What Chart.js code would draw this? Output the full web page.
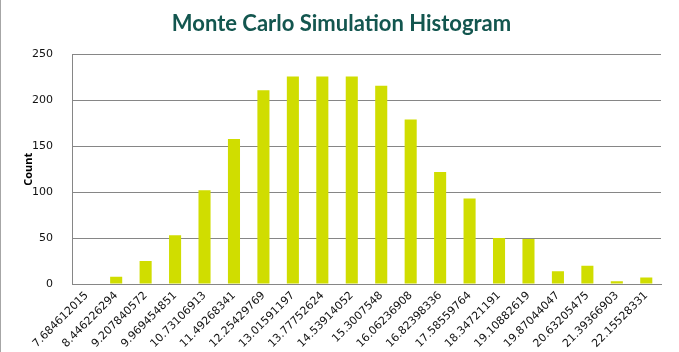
<!DOCTYPE html>
<html>
<head>
<meta charset="utf-8">
<script src="https://cdn.jsdelivr.net/npm/chart.js@4.4.0/dist/chart.umd.min.js"></script>
<style>
  html, body { margin: 0; padding: 0; background: #fff; }
  #wrap { position: relative; width: 679px; height: 352px; }
  #edge { position: absolute; left: 0; top: 0; width: 1px; height: 352px; background: #a6a6a6; }
</style>
</head>
<body>
<div id="wrap">
  <canvas id="myChart" width="679" height="352"></canvas>
  <div id="edge"></div>
</div>
<script>
// bin start values (x axis labels)
var bins = ["7.684612015", "8.446226294", "9.207840572", "9.969454851", "10.73106913",
            "11.49268341", "12.25429769", "13.01591197", "13.77752624", "14.53914052",
            "15.3007548", "16.06236908", "16.82398336", "17.58559764", "18.34721191",
            "19.10882619", "19.87044047", "20.63205475", "21.39366903", "22.15528331"];
// counts
var counts = [0, 8, 25, 53, 102, 158, 211, 226, 226, 226,
              216, 179, 122, 93, 50, 49, 14, 20, 3, 7];
var yTicks = [0, 50, 100, 150, 200, 250];

function renderChart() {
    var ctx = document.getElementById("myChart").getContext('2d');
    var myChart = new Chart(ctx, {
        type: 'bar',
        data: {
            labels: bins,
            datasets: [{
                label: 'Count',
                data: counts,
                backgroundColor: '#d0dd00',
                barPercentage: 0.41,
                categoryPercentage: 1.0
            }]
        },
        options: {
            responsive: false,
            animation: false,
            layout: { padding: { top: 9, right: 18, left: 22, bottom: 0 } },
            plugins: {
                legend: { display: false },
                tooltip: { enabled: false },
                title: {
                    display: true,
                    text: 'Monte Carlo Simulation Histogram',
                    color: '#13564f',
                    font: { family: 'Lato', size: 22, weight: 'bold' },
                    padding: { top: 2, bottom: 17 }
                }
            },
            scales: {
                x: {
                    grid: { display: false, drawTicks: false },
                    border: { display: true, color: '#868686', width: 1 },
                    ticks: {
                        color: '#111',
                        font: { family: 'DejaVu Sans', size: 11 },
                        minRotation: 45,
                        maxRotation: 45,
                        autoSkip: false,
                        padding: 5
                    },
                    afterFit: function (scale) { scale.height = 68; }
                },
                y: {
                    min: 0,
                    max: 250,
                    afterBuildTicks: function (scale) {
                        scale.ticks = yTicks.map(function (v) { return { value: v }; });
                    },
                    grid: { color: '#868686', lineWidth: 1, drawTicks: false },
                    border: { display: true, color: '#868686', width: 1 },
                    ticks: {
                        color: '#111',
                        font: { family: 'DejaVu Sans', size: 11 },
                        padding: 19
                    },
                    title: {
                        display: true,
                        text: 'Count',
                        color: '#000',
                        font: { family: 'Open Sans', size: 11, weight: 'bold' },
                        padding: { top: 0, bottom: 4 }
                    },
                    afterFit: function (scale) { scale.width = 50; }
                }
            }
        }
    });
}

document.addEventListener("DOMContentLoaded", renderChart);
</script>
</body>
</html>
